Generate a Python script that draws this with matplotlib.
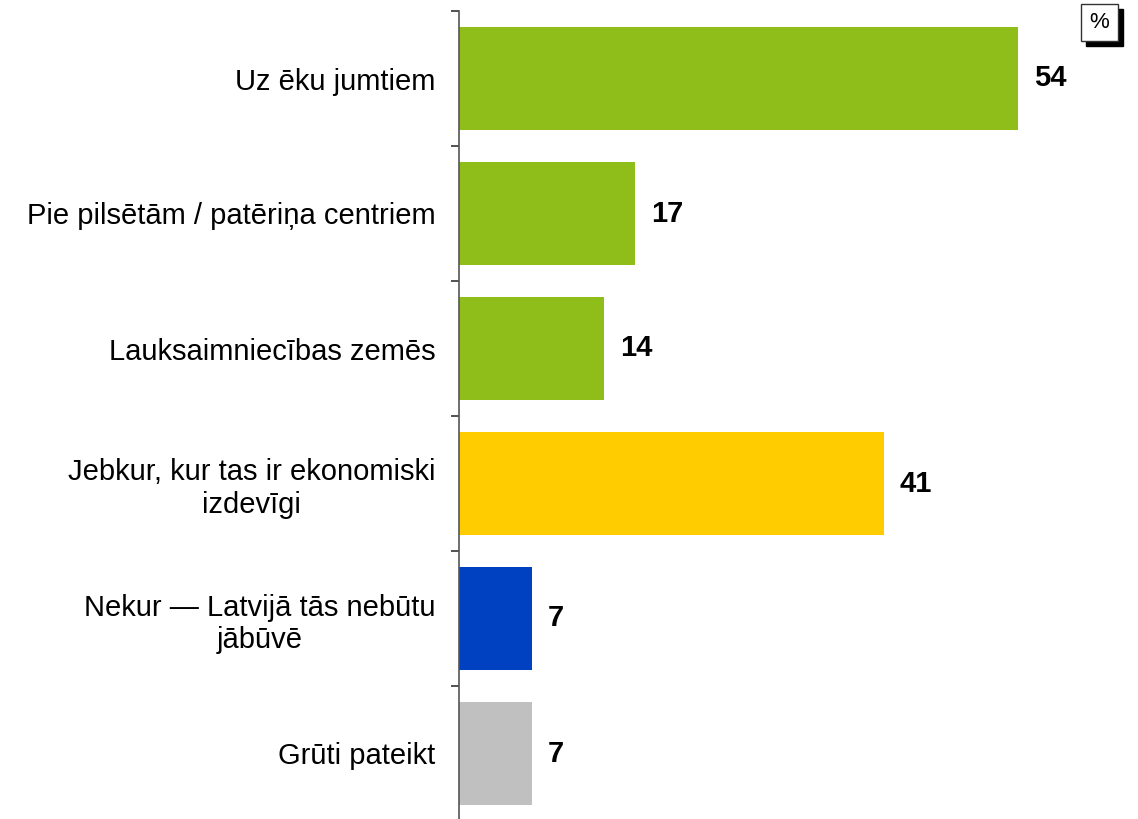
import matplotlib
matplotlib.use('Agg')
from matplotlib import pyplot as plt
from matplotlib.patches import Rectangle
import numpy as np

plt.rcParams['font.family'] = ['Liberation Sans', 'DejaVu Sans']

categories = ['Uz ēku jumtiem',
              'Pie pilsētām / patēriņa centriem',
              'Lauksaimniecības zemēs',
              'Jebkur, kur tas ir ekonomiski\nizdevīgi',
              'Nekur — Latvijā tās nebūtu\njābūvē',
              'Grūti pateikt']
values = [54, 17, 14, 41, 7, 7]
colors = ['#8fbe1b', '#8fbe1b', '#8fbe1b', '#ffcc00', '#0041c2', '#c0c0c0']

W, H = 1138, 819
fig = plt.figure(figsize=(W / 100, H / 100), dpi=100)
ax = fig.add_axes([459 / W, -2 / H, 0.995 - 459 / W, (H - 11 + 2) / H])

y = np.arange(len(categories))
ax.barh(y, values, height=0.77, color=colors)
ax.set_ylim(len(categories) - 0.5, -0.5)
ax.set_xlim(0, 65)

for yi, v in zip(y, values):
    ax.annotate(str(v), (v, yi), xytext=(11.5, 0), textcoords='offset points',
                ha='left', va='center', fontsize=21, fontweight='bold')

ax.set_yticks(y)
ax.set_yticklabels(categories, fontsize=21, multialignment='center')
ax.tick_params(axis='y', which='major', length=0, pad=17)
ax.set_yticks(np.arange(-0.5, len(categories), 1), minor=True)
ax.tick_params(axis='y', which='minor', length=6, width=1.2, color='#333333', direction='out')
ax.set_xticks([])
for s in ['top', 'right', 'bottom']:
    ax.spines[s].set_visible(False)
ax.spines['left'].set_color('#555555')
ax.spines['left'].set_linewidth(1.2)

# % box with shadow
fig.add_artist(Rectangle((1086 / W, 1 - 46 / H), 37 / W, 37 / H, transform=fig.transFigure,
                         facecolor='black', edgecolor='black'))
fig.add_artist(Rectangle((1081 / W, 1 - 41 / H), 37 / W, 37 / H, transform=fig.transFigure,
                         facecolor='white', edgecolor='#333333', linewidth=1))
fig.text(1099.5 / W, 1 - 22.5 / H, '%', ha='center', va='center', fontsize=16)

fig.savefig('out.png', dpi=100)
